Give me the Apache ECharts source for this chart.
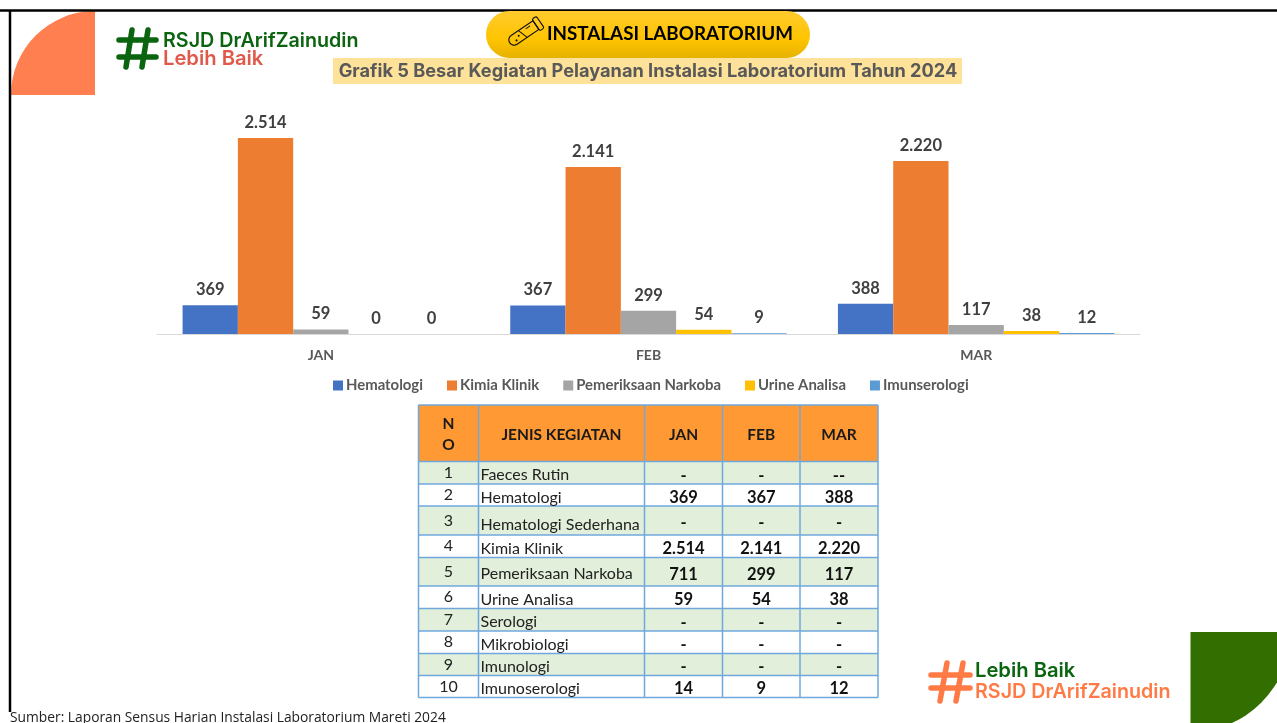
<!DOCTYPE html>
<html><head><meta charset="utf-8">
<style>html,body{margin:0;padding:0;background:#fff}#c{width:1277px;height:723px}</style>
<script src="https://cdn.jsdelivr.net/npm/echarts@6/dist/echarts.min.js"></script>
</head><body><div id="c"></div>
<script>
const months = ['JAN','FEB','MAR'];
const hematologi = [369,367,388];
const kimiaKlinik = [2514,2141,2220];
const narkoba = [59,299,117];
const urineAnalisa = [0,54,38];
const imunserologi = [0,9,12];
const seriesNames = ['Hematologi','Kimia Klinik','Pemeriksaan Narkoba','Urine Analisa','Imunserologi'];
const seriesColors = ['#4472C4','#ED7D31','#A5A5A5','#FFC000','#5B9BD5'];

const tableHead = ['N\nO','JENIS KEGIATAN','JAN','FEB','MAR'];
const tableNo = ['1','2','3','4','5','6','7','8','9','10'];
const tableNames = ['Faeces Rutin','Hematologi','Hematologi Sederhana','Kimia Klinik','Pemeriksaan Narkoba','Urine Analisa','Serologi','Mikrobiologi','Imunologi','Imunoserologi'];
const tableJan = ['-','369','-','2.514','711','59','-','-','-','14'];
const tableFeb = ['-','367','-','2.141','299','54','-','-','-','9'];
const tableMar = ['--','388','-','2.220','117','38','-','-','-','12'];

const colX = [418.5,478.5,644.5,722.5,800,878];
const rowY = [405,461.5,484,506,535,557.5,586,608.5,631,653.5,675.5,697.5];
const g = [];
const F = 'Lato, sans-serif';
const T = (x,y,text,size,weight,fill,align,family,extra) => g.push(Object.assign({type:'text',x,y,style:{text,font:`${weight} ${size}px ${family||F}`,fill,align:align||'left',verticalAlign:'middle'}},extra||{}));
const L = (x1,y1,x2,y2,stroke,w,cap) => g.push({type:'line',shape:{x1,y1,x2,y2},style:{stroke,lineWidth:w,lineCap:cap||'butt'}});

// corner shapes
g.push({type:'sector',shape:{cx:95,cy:95,r:84,r0:0,startAngle:Math.PI,endAngle:Math.PI*1.5},style:{fill:'#FF7F50'}});
g.push({type:'sector',shape:{cx:1190.5,cy:632,r:100,r0:0,startAngle:0,endAngle:Math.PI/2},style:{fill:'#336F00'}});
// frame
L(0,10.5,1277,10.5,'#000',2.5);
L(10,10,10,712,'#000',2.5);
// pill
g.push({type:'rect',shape:{x:486,y:11,width:324,height:47,r:23.5},
  style:{fill:new echarts.graphic.LinearGradient(0,0,0,1,[{offset:0,color:'#FFCB2E'},{offset:0.6,color:'#FFC400'},{offset:1,color:'#E6B200'}])}});
// tube icon
g.push({type:'group',x:525,y:32.5,rotation:0.6,scaleX:0.88,scaleY:0.88,children:[
  {type:'rect',shape:{x:-21,y:-6,width:36,height:12,r:[6,0,0,6]},style:{fill:'none',stroke:'#111',lineWidth:1.3}},
  {type:'rect',shape:{x:15,y:-8,width:6,height:16,r:2},style:{fill:'none',stroke:'#111',lineWidth:1.3}},
  {type:'circle',shape:{cx:-13,cy:2,r:1.2},style:{fill:'#111'}},
  {type:'circle',shape:{cx:-8,cy:-1,r:1.2},style:{fill:'#111'}},
  {type:'line',shape:{x1:-5,y1:-6,x2:-1,y2:6},style:{stroke:'#111',lineWidth:1.1}},
  {type:'line',shape:{x1:3,y1:-3,x2:9,y2:-3},style:{stroke:'#111',lineWidth:1.1}}
]});
T(547,34,'INSTALASI LABORATORIUM',18.8,700,'#000');
// subtitle
g.push({type:'rect',shape:{x:333,y:58,width:629,height:26},style:{fill:'#FFE299'}});
T(648,72,'Grafik 5 Besar Kegiatan Pelayanan Instalasi Laboratorium Tahun 2024',18.2,700,'#595959','center','Inter, sans-serif');
// logo top
const hash = (pts,c,w)=>pts.forEach(p=>L(p[0],p[1],p[2],p[3],c,w,'round'));
hash([[119,40,156,40],[119,57,156,57],[132,30,126,67],[148,30,142,67]],'#0B640F',5.5);
T(163,41,'RSJD DrArifZainudin',19.7,600,'#0B640F','left','Inter, sans-serif');
T(163,58.5,'Lebih Baik',20.2,600,'#E0594B','left','Inter, sans-serif');
// logo bottom
hash([[931,675,970,675],[931,688,970,688],[947,663,940,701],[963,663,956,701]],'#FF7A45',5.5);
T(975,671,'Lebih Baik',20.2,600,'#0B640F','left','Inter, sans-serif');
T(975,692.5,'RSJD DrArifZainudin',19.7,600,'#FF7A45','left','Inter, sans-serif');
// table
const cols = [tableNo,tableNames,tableJan,tableFeb,tableMar];
g.push({type:'rect',shape:{x:colX[0],y:rowY[0],width:colX[5]-colX[0],height:rowY[1]-rowY[0]},style:{fill:'#FF9933'}});
for(let r=0;r<tableNo.length;r++){
  g.push({type:'rect',shape:{x:colX[0],y:rowY[r+1],width:colX[5]-colX[0],height:rowY[r+2]-rowY[r+1]},style:{fill:r%2===0?'#E2EFDA':'#fff'}});
}
rowY.forEach(y=>L(colX[0],y,colX[5],y,'#6FA8DC',1.5));
colX.forEach(x=>L(x,rowY[0],x,rowY[rowY.length-1],'#6FA8DC',1.5));
tableHead.forEach((h,c)=>{
  const cx=(colX[c]+colX[c+1])/2;
  g.push({type:'text',x:cx,y:(rowY[0]+rowY[1])/2+1.5,style:{text:h,font:`700 15.5px ${F}`,fill:'#1a1a1a',align:'center',verticalAlign:'middle',lineHeight:21}});
});
for(let r=0;r<tableNo.length;r++){
  const cy=(rowY[r+1]+rowY[r+2])/2;
  T((colX[0]+colX[1])/2,cy,tableNo[r],16,400,'#222','center');
  T(480.5,cy+(r===2?4:2.5),tableNames[r],16,400,'#222','left');
  [2,3,4].forEach(c=>T((colX[c]+colX[c+1])/2,cy+2.5,cols[c][r],16.5,700,'#111','center'));
}
// footer
T(10,718,'Sumber: Laporan Sensus Harian Instalasi Laboratorium Mareti 2024',13.8,400,'#222','left','"Open Sans", sans-serif');

const values = [hematologi,kimiaKlinik,narkoba,urineAnalisa,imunserologi];
const fmt = v => String(v).replace(/\B(?=(\d{3})+$)/g,'.');
const chart = echarts.init(document.getElementById('c'),null,{renderer:'canvas'});
chart.setOption({
  animation:false,
  grid:{left:157,right:137,top:131.3,bottom:389},
  legend:{left:333,top:378,padding:0,itemWidth:10,itemHeight:10,itemGap:24,icon:'rect',
    textStyle:{fontFamily:F,fontWeight:700,fontSize:14.9,color:'#595959',padding:[0,0,0,-2]},data:seriesNames},
  xAxis:{type:'category',data:months,axisTick:{show:false},axisLine:{lineStyle:{color:'#D9D9D9',width:1}},
    axisLabel:{fontFamily:F,fontWeight:700,fontSize:14,color:'#595959',margin:14}},
  yAxis:{type:'value',min:0,max:2600,show:false,splitLine:{show:false}},
  series:seriesNames.map((n,i)=>({name:n,type:'bar',data:values[i],barWidth:55.3,barGap:'0%',
    itemStyle:{color:seriesColors[i]},
    label:{show:true,position:'top',distance:7,formatter:p=>fmt(p.value),fontFamily:F,fontWeight:700,fontSize:16.5,color:'#404040'}})),
  graphic:{elements:g}
});
</script></body></html>
